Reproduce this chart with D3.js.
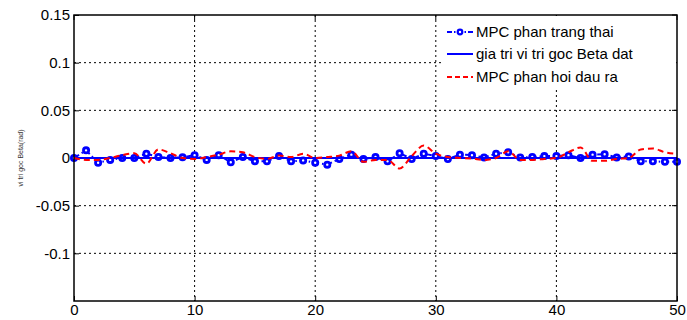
<!DOCTYPE html>
<html><head><meta charset="utf-8">
<script src="https://cdn.jsdelivr.net/npm/d3@7"></script>
<style>body{margin:0;background:#fff;}svg{display:block;font-family:Arial,"Liberation Sans",sans-serif;}</style>
</head><body>
<svg id="c" width="687" height="320"></svg>
<script>
const steps = d3.range(0, 51);
const mpcState = [0,0.008,-0.005,-0.002,0,0,0.0045,0.001,0,0.0007,0.003,-0.002,0.003,-0.0045,0.001,-0.0035,-0.0035,0.002,-0.0035,-0.0025,-0.005,-0.007,-0.001,0.0035,-0.001,0.001,-0.0035,0.005,-0.001,0.0045,0.002,-0.001,0.0035,0.003,0.0005,0.0045,0.006,0.0005,0.001,0.002,0.002,0.003,0,0.0035,0.004,0.0005,0.0017,-0.0035,-0.0035,-0.004,-0.004];
const setpoint = steps.map(() => 0);
const mpcOutput = [0,-0.002,-0.002,0,0.003,0.005,-0.006,0.009,0.005,0,-0.001,0.001,0.0035,0.007,0.006,0.001,-0.001,0.0025,0.001,0.0045,0,0.001,0.0025,0.007,-0.004,-0.002,-0.002,-0.011,0.002,0.013,0.0045,0.001,0,-0.0005,-0.002,0,0.007,-0.002,-0.002,-0.001,0,0.006,0.011,-0.003,-0.003,-0.001,0,0.009,0.010,0.006,0.0045];
const xTicks = [0,10,20,30,40,50];
const yTicks = [0.15,0.1,0.05,0,-0.05,-0.1];
const seriesNames = ["MPC phan trang thai","gia tri vi tri goc Beta dat","MPC phan hoi dau ra"];
const yLabel = "vi tri goc Beta(rad)";

const svg = d3.select("#c");
const L = 74, R = 677, T = 15, B = 301;
const x = d3.scaleLinear().domain([0,50]).range([L,R]);
const y = d3.scaleLinear().domain([-0.15,0.15]).range([B,T]);

// grid
const g = svg.append("g");
g.selectAll(".vg").data(xTicks.filter(d=>d>0&&d<50)).join("line")
  .attr("x1",d=>x(d)).attr("x2",d=>x(d)).attr("y1",T).attr("y2",B)
  .attr("stroke","#000").attr("stroke-width",1).attr("stroke-dasharray","2,3");
g.selectAll(".hg").data(yTicks.filter(d=>d<0.15)).join("line")
  .attr("x1",L).attr("x2",R).attr("y1",d=>y(d)).attr("y2",d=>y(d))
  .attr("stroke","#000").attr("stroke-width",1).attr("stroke-dasharray","2,3");

// axes
const xa = svg.append("g").attr("transform",`translate(0,${B})`)
  .call(d3.axisBottom(x).tickValues(xTicks).tickSize(-5).tickPadding(3).tickFormat(d3.format("d")));
const ya = svg.append("g").attr("transform",`translate(${L},0)`)
  .call(d3.axisLeft(y).tickValues(yTicks).tickSize(-5).tickPadding(4).tickFormat(d=>d===0?"0":String(d)));
[xa,ya].forEach(a=>{
  a.select(".domain").remove();
  a.selectAll("line").attr("stroke","#000");
  a.selectAll("text").attr("font-size",15).attr("fill","#000").attr("font-family","Arial, 'Liberation Sans', sans-serif");
});
xa.selectAll("text").attr("dy","0.71em");
// top/right ticks
svg.append("g").selectAll("line").data(xTicks).join("line")
  .attr("x1",d=>x(d)).attr("x2",d=>x(d)).attr("y1",T).attr("y2",T+5).attr("stroke","#000");
svg.append("g").selectAll("line").data(yTicks).join("line")
  .attr("x1",R).attr("x2",R-5).attr("y1",d=>y(d)).attr("y2",d=>y(d)).attr("stroke","#000");

// lines
const line = d3.line().x((d,i)=>x(steps[i])).y(d=>y(d));
svg.append("path").datum(mpcState).attr("d",line).attr("fill","none")
  .attr("stroke","#0000ff").attr("stroke-width",2).attr("stroke-dasharray","6,3,1.5,3");
svg.append("g").selectAll("circle").data(mpcState).join("circle")
  .attr("cx",(d,i)=>x(steps[i])).attr("cy",d=>y(d)).attr("r",2.6)
  .attr("fill","#fff").attr("stroke","#0000ff").attr("stroke-width",2.8);
svg.append("path").datum(setpoint).attr("d",line).attr("fill","none")
  .attr("stroke","#0000ff").attr("stroke-width",2);
svg.append("path").datum(mpcOutput).attr("d",line.curve(d3.curveMonotoneX)).attr("fill","none")
  .attr("stroke","#ff0000").attr("stroke-width",2).attr("stroke-dasharray","6,4");

// legend
const lg = svg.append("g");
lg.append("rect").attr("x",443).attr("y",T+1).attr("width",R-443-1).attr("height",72).attr("fill","#fff");
const rows = [32,54,77];
seriesNames.forEach((n,i)=>{
  const yy = rows[i];
  const ln = lg.append("line").attr("x1",447).attr("x2",473).attr("y1",yy).attr("y2",yy)
    .attr("stroke", i===2?"#ff0000":"#0000ff").attr("stroke-width",2);
  if(i===0){ ln.attr("stroke-dasharray","5,2,1.5,2");
    lg.append("circle").attr("cx",460).attr("cy",yy).attr("r",2.3).attr("fill","#fff").attr("stroke","#0000ff").attr("stroke-width",2.2); }
  if(i===2) ln.attr("stroke-dasharray","5,3");
  lg.append("text").attr("x",476).attr("y",yy).attr("dy","0.35em").attr("font-size",15).attr("fill","#000").text(n);
});

// box
svg.append("rect").attr("x",L).attr("y",T).attr("width",R-L).attr("height",B-T)
  .attr("fill","none").attr("stroke","#000").attr("stroke-width",1.5);

// y label
svg.append("text").attr("transform",`translate(23,158) rotate(-90)`).attr("text-anchor","middle")
  .attr("font-size",7).attr("fill","#333").text(yLabel);
</script>
</body></html>
